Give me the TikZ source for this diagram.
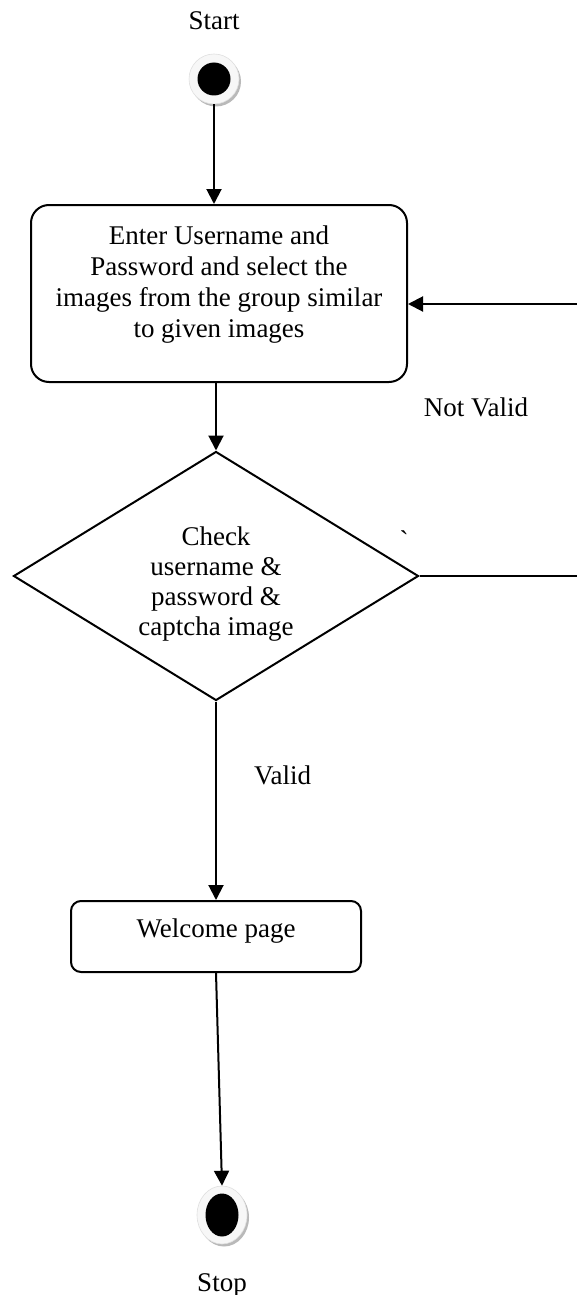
\documentclass[tikz,border=0pt]{standalone}
\usepackage{fontspec}
\setmainfont{Liberation Serif}
\newfontfamily\gravefont{Liberation Serif}
\usetikzlibrary{positioning,shapes.geometric,arrows.meta,shadows}

\begin{document}
\begin{tikzpicture}[
    x=1pt, y=-1pt,
    line width=2pt,
    >={Triangle[length=15pt,width=15pt]},
    textfont/.style={font=\fontsize{27}{31}\selectfont},
    actnode/.style={rectangle, rounded corners=18pt, draw=black, textfont, align=center},
    decnode/.style={diamond, aspect=1.63, draw=black, inner sep=0pt, textfont, align=center, minimum width=405pt, minimum height=249pt},
    endnode/.style={draw=gray!25, line width=0.6pt, fill=gray!6, drop shadow={shadow xshift=2pt, shadow yshift=-2.5pt, fill=gray!55, opacity=1}},
    plain/.style={inner sep=0pt, textfont}
    ]
    \useasboundingbox (0,0) rectangle (577,1295);

    %Nodes
    \node[endnode, circle, minimum size=50pt,
          path picture={\fill[black] (path picture bounding box.center) circle (16.5pt);}]
          (start) at (214,79) {};
    \node[plain] (startlbl) [above=23pt of start] {Start};
    \node[actnode, minimum width=376pt, minimum height=177pt, text depth=24pt] (enter) at (219,293.5)
          {Enter Username and\\Password and select the\\images from the group similar\\to given images};
    \node[decnode, font=\fontsize{27}{30}\selectfont, text height=124pt] (check) at (216,576)
          {Check\\username \&\\password \&\\captcha image};
    \node[actnode, rounded corners=10pt, minimum width=290pt, minimum height=71pt, text depth=17pt] (welcome) at (216,936.5)
          {Welcome page};
    \node[endnode, ellipse, minimum width=50pt, minimum height=58pt,
          path picture={\fill[black] (path picture bounding box.center) ellipse (16.5pt and 21.5pt);}]
          (stop) at (222,1215) {};
    \node[plain] (stoplbl) [below=28pt of stop] {Stop};
    \node[plain] (notvalid) at (476,407) {Not Valid};
    \node[plain] (tick) at (404,540) {\gravefont`};
    \coordinate (rout) at (580,576);
    \coordinate (rin) at (580,304);

    %Lines
    \draw[->] (start) to (start |- enter.north);
    \draw[->] (check.north |- enter.south) to (check.north);
    \draw[->] (check.south) to node[plain, pos=0.37, right=37pt] {Valid} (welcome.north);
    \draw[->] (welcome.south) to (stop.north);
    \draw (check.east) to (rout);
    \draw[->] (rin) to (rin -| enter.east);
\end{tikzpicture}
\end{document}
